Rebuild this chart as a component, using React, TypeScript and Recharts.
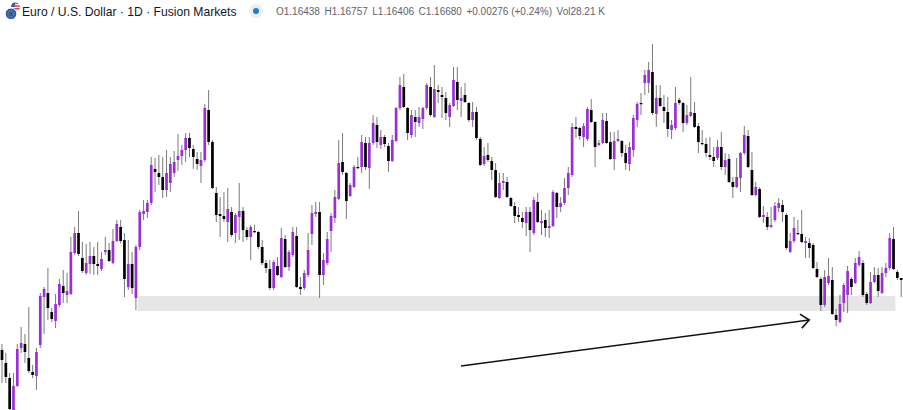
import React from 'react';
import { ComposedChart, Bar, XAxis, YAxis, ReferenceArea, ReferenceLine } from 'recharts';

const opens = [
  1.1650, 1.1637, 1.1622, 1.1590, 1.1614, 1.1652, 1.1656, 1.1642, 1.1628, 1.1624,
  1.1655, 1.1703, 1.1707, 1.1688, 1.1679, 1.1695, 1.1714, 1.1705, 1.1706, 1.1747,
  1.1767, 1.1742, 1.1727, 1.1736, 1.1744, 1.1736, 1.1731, 1.1748, 1.1750, 1.1737,
  1.1759, 1.1773, 1.1760, 1.1713, 1.1736, 1.1702, 1.1753, 1.1786, 1.1788, 1.1797,
  1.1831, 1.1827, 1.1823, 1.1810, 1.1817, 1.1827, 1.1840, 1.1844, 1.1850, 1.1862,
  1.1851, 1.1841, 1.1834, 1.1840, 1.1890, 1.1858, 1.1807, 1.1786, 1.1784, 1.1778,
  1.1788, 1.1767, 1.1783, 1.1789, 1.1770, 1.1763, 1.1769, 1.1768, 1.1753, 1.1737,
  1.1731, 1.1712, 1.1734, 1.1723, 1.1761, 1.1733, 1.1745, 1.1764, 1.1713, 1.1712,
  1.1725, 1.1766, 1.1786, 1.1788, 1.1725, 1.1737, 1.1769, 1.1782, 1.1801, 1.1838,
  1.1827, 1.1804, 1.1813, 1.1833, 1.1833, 1.1857, 1.1832, 1.1857, 1.1875, 1.1855,
  1.1863, 1.1854, 1.1839, 1.1859, 1.1892, 1.1913, 1.1892, 1.1865, 1.1883, 1.1877,
  1.1881, 1.1892, 1.1913, 1.1883, 1.1910, 1.1905, 1.1902, 1.1883, 1.1894, 1.1918,
  1.1899, 1.1905, 1.1897, 1.1880, 1.1888, 1.1861, 1.1836, 1.1845, 1.1839, 1.1830,
  1.1802, 1.1817, 1.1818, 1.1802, 1.1794, 1.1785, 1.1782, 1.1777, 1.1788, 1.1767,
  1.1798, 1.1777, 1.1780, 1.1772, 1.1774, 1.1807, 1.1793, 1.1797, 1.1812, 1.1825,
  1.1873, 1.1872, 1.1863, 1.1861, 1.1890, 1.1878, 1.1855, 1.1857, 1.1879, 1.1858,
  1.1841, 1.1859, 1.1859, 1.1847, 1.1836, 1.1850, 1.1880, 1.1897, 1.1917, 1.1917,
  1.1928, 1.1886, 1.1902, 1.1893, 1.1888, 1.1870, 1.1872, 1.1900, 1.1897, 1.1877,
  1.1884, 1.1887, 1.1874, 1.1857, 1.1856, 1.1845, 1.1843, 1.1842, 1.1853, 1.1833,
  1.1841, 1.1818, 1.1813, 1.1822, 1.1847, 1.1864, 1.1830, 1.1805, 1.1811, 1.1783,
  1.1783, 1.1773, 1.1780, 1.1792, 1.1795, 1.1785, 1.1748, 1.1759, 1.1767, 1.1766,
  1.1757, 1.1757, 1.1755, 1.1731, 1.1721, 1.1695, 1.1717, 1.1720, 1.1685, 1.1678,
  1.1697, 1.1705, 1.1721, 1.1717, 1.1735, 1.1737, 1.1706, 1.1697, 1.1718, 1.1725,
  1.1707, 1.1727, 1.1732, 1.1761, 1.1728, 1.1722,
];

const highs = [
  1.1656, 1.1647, 1.1627, 1.1627, 1.1656, 1.1673, 1.1666, 1.1693, 1.1635, 1.1652,
  1.1707, 1.1713, 1.1732, 1.1692, 1.1706, 1.1721, 1.1730, 1.1727, 1.1763, 1.1773,
  1.1789, 1.1758, 1.1756, 1.1758, 1.1753, 1.1758, 1.1748, 1.1763, 1.1757, 1.1771,
  1.1780, 1.1780, 1.1767, 1.1760, 1.1748, 1.1755, 1.1790, 1.1800, 1.1800, 1.1843,
  1.1842, 1.1845, 1.1843, 1.1850, 1.1843, 1.1849, 1.1866, 1.1855, 1.1867, 1.1867,
  1.1855, 1.1848, 1.1848, 1.1896, 1.1910, 1.1860, 1.1813, 1.1803, 1.1808, 1.1812,
  1.1793, 1.1787, 1.1817, 1.1793, 1.1773, 1.1775, 1.1775, 1.1769, 1.1760, 1.1740,
  1.1740, 1.1740, 1.1743, 1.1772, 1.1765, 1.1750, 1.1773, 1.1773, 1.1723, 1.1730,
  1.1767, 1.1795, 1.1798, 1.1798, 1.1747, 1.1768, 1.1787, 1.1810, 1.1860, 1.1867,
  1.1828, 1.1817, 1.1835, 1.1843, 1.1865, 1.1863, 1.1863, 1.1885, 1.1883, 1.1870,
  1.1865, 1.1857, 1.1865, 1.1893, 1.1923, 1.1926, 1.1893, 1.1890, 1.1890, 1.1893,
  1.1893, 1.1917, 1.1923, 1.1935, 1.1915, 1.1913, 1.1908, 1.1897, 1.1933, 1.1933,
  1.1913, 1.1917, 1.1898, 1.1898, 1.1893, 1.1863, 1.1853, 1.1857, 1.1843, 1.1837,
  1.1827, 1.1827, 1.1823, 1.1803, 1.1798, 1.1793, 1.1788, 1.1793, 1.1793, 1.1803,
  1.1807, 1.1790, 1.1787, 1.1790, 1.1810, 1.1808, 1.1803, 1.1822, 1.1833, 1.1877,
  1.1883, 1.1873, 1.1877, 1.1893, 1.1901, 1.1879, 1.1860, 1.1887, 1.1887, 1.1868,
  1.1868, 1.1870, 1.1860, 1.1855, 1.1858, 1.1885, 1.1898, 1.1907, 1.1930, 1.1938,
  1.1956, 1.1915, 1.1915, 1.1905, 1.1903, 1.1880, 1.1913, 1.1902, 1.1898, 1.1895,
  1.1923, 1.1898, 1.1877, 1.1870, 1.1862, 1.1863, 1.1853, 1.1860, 1.1868, 1.1847,
  1.1846, 1.1823, 1.1842, 1.1848, 1.1874, 1.1870, 1.1848, 1.1818, 1.1813, 1.1794,
  1.1788, 1.1793, 1.1798, 1.1802, 1.1800, 1.1787, 1.1767, 1.1783, 1.1780, 1.1790,
  1.1763, 1.1762, 1.1757, 1.1738, 1.1723, 1.1730, 1.1742, 1.1733, 1.1691, 1.1705,
  1.1717, 1.1734, 1.1723, 1.1742, 1.1749, 1.1740, 1.1708, 1.1728, 1.1733, 1.1732,
  1.1733, 1.1737, 1.1767, 1.1773, 1.1730, 1.1722,
];

const lows = [
  1.1617, 1.1617, 1.1588, 1.1588, 1.1613, 1.1647, 1.1637, 1.1627, 1.1622, 1.1610,
  1.1652, 1.1666, 1.1680, 1.1678, 1.1672, 1.1693, 1.1697, 1.1697, 1.1705, 1.1745,
  1.1744, 1.1727, 1.1725, 1.1726, 1.1725, 1.1725, 1.1729, 1.1745, 1.1738, 1.1736,
  1.1758, 1.1757, 1.1703, 1.1710, 1.1706, 1.1690, 1.1750, 1.1780, 1.1782, 1.1795,
  1.1808, 1.1815, 1.1802, 1.1803, 1.1808, 1.1823, 1.1829, 1.1835, 1.1838, 1.1843,
  1.1831, 1.1830, 1.1817, 1.1838, 1.1855, 1.1811, 1.1778, 1.1763, 1.1778, 1.1758,
  1.1763, 1.1757, 1.1760, 1.1758, 1.1760, 1.1740, 1.1767, 1.1751, 1.1735, 1.1727,
  1.1710, 1.1710, 1.1724, 1.1722, 1.1732, 1.1729, 1.1743, 1.1712, 1.1705, 1.1710,
  1.1723, 1.1755, 1.1783, 1.1702, 1.1715, 1.1735, 1.1748, 1.1777, 1.1800, 1.1825,
  1.1781, 1.1803, 1.1812, 1.1831, 1.1827, 1.1830, 1.1811, 1.1855, 1.1852, 1.1851,
  1.1853, 1.1828, 1.1838, 1.1858, 1.1890, 1.1892, 1.1860, 1.1862, 1.1863, 1.1873,
  1.1871, 1.1890, 1.1883, 1.1882, 1.1897, 1.1882, 1.1880, 1.1873, 1.1893, 1.1890,
  1.1883, 1.1897, 1.1878, 1.1873, 1.1860, 1.1834, 1.1834, 1.1838, 1.1820, 1.1802,
  1.1801, 1.1810, 1.1802, 1.1793, 1.1777, 1.1778, 1.1772, 1.1764, 1.1748, 1.1765,
  1.1777, 1.1765, 1.1763, 1.1762, 1.1773, 1.1782, 1.1788, 1.1795, 1.1805, 1.1823,
  1.1862, 1.1860, 1.1853, 1.1859, 1.1877, 1.1833, 1.1854, 1.1856, 1.1856, 1.1840,
  1.1830, 1.1858, 1.1843, 1.1830, 1.1829, 1.1843, 1.1873, 1.1885, 1.1905, 1.1907,
  1.1885, 1.1873, 1.1893, 1.1877, 1.1863, 1.1861, 1.1870, 1.1895, 1.1868, 1.1875,
  1.1883, 1.1872, 1.1847, 1.1855, 1.1843, 1.1840, 1.1833, 1.1840, 1.1830, 1.1825,
  1.1817, 1.1802, 1.1812, 1.1808, 1.1845, 1.1832, 1.1804, 1.1804, 1.1782, 1.1777,
  1.1770, 1.1772, 1.1778, 1.1788, 1.1778, 1.1750, 1.1747, 1.1757, 1.1765, 1.1757,
  1.1742, 1.1742, 1.1731, 1.1722, 1.1689, 1.1693, 1.1715, 1.1685, 1.1674, 1.1677,
  1.1688, 1.1687, 1.1705, 1.1716, 1.1733, 1.1703, 1.1695, 1.1696, 1.1717, 1.1703,
  1.1706, 1.1723, 1.1730, 1.1730, 1.1720, 1.1703,
];

const closes = [
  1.1640, 1.1623, 1.1591, 1.1614, 1.1651, 1.1657, 1.1648, 1.1629, 1.1625, 1.1648,
  1.1704, 1.1711, 1.1692, 1.1681, 1.1696, 1.1716, 1.1707, 1.1709, 1.1748, 1.1767,
  1.1746, 1.1729, 1.1737, 1.1744, 1.1736, 1.1734, 1.1741, 1.1750, 1.1739, 1.1759,
  1.1776, 1.1759, 1.1721, 1.1736, 1.1712, 1.1753, 1.1788, 1.1789, 1.1797, 1.1835,
  1.1828, 1.1823, 1.1810, 1.1827, 1.1836, 1.1838, 1.1844, 1.1850, 1.1862, 1.1852,
  1.1843, 1.1836, 1.1840, 1.1892, 1.1858, 1.1812, 1.1785, 1.1784, 1.1781, 1.1791,
  1.1765, 1.1785, 1.1789, 1.1770, 1.1763, 1.1773, 1.1768, 1.1753, 1.1737, 1.1732,
  1.1712, 1.1738, 1.1725, 1.1762, 1.1733, 1.1748, 1.1768, 1.1713, 1.1711, 1.1727,
  1.1750, 1.1787, 1.1788, 1.1725, 1.1740, 1.1761, 1.1784, 1.1803, 1.1837, 1.1828,
  1.1799, 1.1815, 1.1833, 1.1832, 1.1858, 1.1833, 1.1857, 1.1877, 1.1858, 1.1863,
  1.1856, 1.1839, 1.1860, 1.1892, 1.1915, 1.1893, 1.1867, 1.1885, 1.1878, 1.1883,
  1.1892, 1.1915, 1.1885, 1.1911, 1.1908, 1.1903, 1.1887, 1.1895, 1.1920, 1.1900,
  1.1902, 1.1898, 1.1880, 1.1888, 1.1862, 1.1835, 1.1844, 1.1840, 1.1830, 1.1803,
  1.1817, 1.1819, 1.1803, 1.1794, 1.1784, 1.1783, 1.1778, 1.1788, 1.1770, 1.1800,
  1.1778, 1.1779, 1.1772, 1.1774, 1.1808, 1.1793, 1.1797, 1.1812, 1.1827, 1.1873,
  1.1871, 1.1864, 1.1874, 1.1891, 1.1878, 1.1853, 1.1857, 1.1880, 1.1857, 1.1841,
  1.1859, 1.1861, 1.1847, 1.1837, 1.1853, 1.1882, 1.1896, 1.1896, 1.1925, 1.1930,
  1.1887, 1.1902, 1.1894, 1.1889, 1.1871, 1.1875, 1.1897, 1.1897, 1.1877, 1.1885,
  1.1888, 1.1873, 1.1858, 1.1856, 1.1847, 1.1843, 1.1839, 1.1853, 1.1833, 1.1840,
  1.1818, 1.1813, 1.1823, 1.1847, 1.1865, 1.1833, 1.1805, 1.1813, 1.1783, 1.1785,
  1.1773, 1.1775, 1.1794, 1.1797, 1.1788, 1.1752, 1.1759, 1.1772, 1.1766, 1.1758,
  1.1759, 1.1752, 1.1732, 1.1723, 1.1695, 1.1723, 1.1724, 1.1686, 1.1680, 1.1696,
  1.1715, 1.1729, 1.1713, 1.1737, 1.1743, 1.1705, 1.1697, 1.1718, 1.1725, 1.1709,
  1.1727, 1.1732, 1.1762, 1.1731, 1.1722, 1.1720,
];

const title = 'Euro / U.S. Dollar · 1D · Fusion Markets';
const ohlcItems = ['O1.16438', 'H1.16757', 'L1.16406', 'C1.16680', '+0.00276 (+0.24%)', 'Vol28.21 K'];

const data = opens.map((o, i) => ({
  i,
  o,
  h: highs[i],
  l: lows[i],
  c: closes[i],
  range: [lows[i], highs[i]],
}));

const BULL = '#9a2fd8';
const BEAR = '#000000';
const WICK = '#7a7a7a';

const Candle = (props: any) => {
  const { x, y, width, height, payload } = props;
  if (!payload || x == null || y == null) return null;
  const { o, h, l, c } = payload;
  const top = Math.min(y, y + height);
  const bot = Math.max(y, y + height);
  const span = h - l;
  const k = span > 0 ? (bot - top) / span : 0;
  const py = (p: number) => top + (h - p) * k;
  const cx = x + width / 2;
  const bw = 2.7;
  const bull = c >= o;
  const yTop = py(Math.max(o, c));
  const yBot = py(Math.min(o, c));
  const bh = Math.max(yBot - yTop, 1.2);
  return (
    <g>
      <line x1={cx} x2={cx} y1={top} y2={bot} stroke={WICK} strokeWidth={1} />
      <rect x={cx - bw / 2} y={yTop} width={bw} height={bh} fill={bull ? BULL : BEAR} />
    </g>
  );
};

const Arrow = (props: any) => {
  const { x1, y1, x2, y2 } = props;
  if ([x1, y1, x2, y2].some((v) => v == null || Number.isNaN(v))) return null;
  const dx = x2 - x1;
  const dy = y2 - y1;
  const len = Math.hypot(dx, dy) || 1;
  const ux = -dx / len;
  const uy = -dy / len;
  const L = 11;
  const rot = (t: number) => [
    x2 + L * (ux * Math.cos(t) - uy * Math.sin(t)),
    y2 + L * (ux * Math.sin(t) + uy * Math.cos(t)),
  ];
  const a = (40 * Math.PI) / 180;
  const p1 = rot(a);
  const p2 = rot(-a);
  return (
    <g>
      <line x1={x1} y1={y1} x2={x2} y2={y2} stroke="#111" strokeWidth={1.6} />
      <polyline
        points={`${p1[0]},${p1[1]} ${x2},${y2} ${p2[0]},${p2[1]}`}
        fill="none"
        stroke="#111"
        strokeWidth={1.6}
      />
    </g>
  );
};

const Icon = () => (
  <svg width={20} height={22} style={{ position: 'absolute', left: 2, top: 1 }}>
    <defs>
      <clipPath id="usflag">
        <circle cx={13.5} cy={6} r={4.5} />
      </clipPath>
    </defs>
    <g clipPath="url(#usflag)">
      <rect x={8} y={1} width={11} height={11} fill="#ffffff" />
      <rect x={8} y={1.5} width={11} height={1.4} fill="#d6313a" />
      <rect x={8} y={4.3} width={11} height={1.4} fill="#d6313a" />
      <rect x={8} y={7.1} width={11} height={1.4} fill="#d6313a" />
      <rect x={8} y={9.9} width={11} height={1.4} fill="#d6313a" />
      <rect x={8} y={1} width={5} height={5} fill="#3c5aa8" />
    </g>
    <circle cx={9} cy={12.8} r={5.8} fill="#2f5aa8" stroke="#ffffff" strokeWidth={1} />
    <circle cx={9} cy={12.8} r={3} fill="none" stroke="#f2c94c" strokeWidth={0.8} strokeDasharray="0.8 1.2" />
  </svg>
);

export default function App() {
  return (
    <div style={{ position: 'fixed', left: 0, top: 0, width: 903, height: 410, background: '#ffffff', overflow: 'hidden' }}>
      <ComposedChart
        width={903}
        height={410}
        data={data}
        margin={{ top: 0, right: 0, bottom: 0, left: 0 }}
        barCategoryGap={0}
        barGap={0}
      >
        <XAxis dataKey="i" type="category" hide />
        <YAxis hide domain={[1.159, 1.2]} allowDataOverflow type="number" />
        <ReferenceArea
          x1={36}
          x2={233}
          y1={1.1689}
          y2={1.1704}
          fill="#e6e6e6"
          fillOpacity={1}
          stroke="none"
          ifOverflow="visible"
        />
        <Bar dataKey="range" shape={Candle} isAnimationActive={false} />
        <ReferenceLine
          segment={[
            { x: 120, y: 1.1634 },
            { x: 211, y: 1.168 },
          ]}
          stroke="#111"
          strokeWidth={1.6}
          ifOverflow="visible"
          shape={Arrow}
        />
      </ComposedChart>
      <Icon />
      <div
        style={{
          position: 'absolute',
          left: 22,
          top: 5,
          fontFamily: '"Liberation Sans", Arial, sans-serif',
          fontSize: 12.15,
          lineHeight: '14.4px',
          color: '#131722',
          whiteSpace: 'nowrap',
        }}
      >
        {title}
      </div>
      <svg width={16} height={16} style={{ position: 'absolute', left: 248, top: 3 }}>
        <circle cx={8} cy={8} r={7} fill="#eceef2" />
        <circle cx={8} cy={8} r={3} fill="#1e7fd0" />
      </svg>
      <div
        style={{
          position: 'absolute',
          left: 276,
          top: 5,
          fontFamily: '"Liberation Sans", Arial, sans-serif',
          fontSize: 10,
          lineHeight: '14.4px',
          color: '#60636c',
          whiteSpace: 'nowrap',
          display: 'flex',
          gap: 4.5,
        }}
      >
        {ohlcItems.map((t) => (
          <span key={t}>{t}</span>
        ))}
      </div>
    </div>
  );
}
